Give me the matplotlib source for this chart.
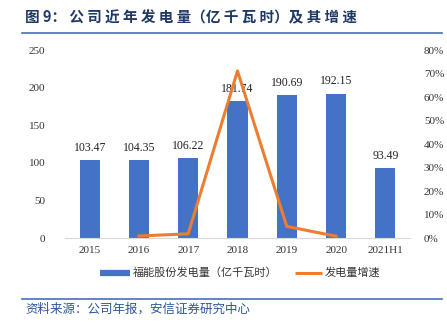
import matplotlib.pyplot as plt
import numpy as np

plt.rcParams['font.family'] = ['Liberation Serif', 'Noto Sans CJK SC']

years = ['2015', '2016', '2017', '2018', '2019', '2020', '2021H1']
output = [103.47, 104.35, 106.22, 181.74, 190.69, 192.15, 93.49]
growth_years = ['2016', '2017', '2018', '2019', '2020']
growth = [0.85, 1.79, 71.10, 4.92, 0.77]
legend_labels = ['福能股份发电量（亿千瓦时）', '发电量增速']

bar_color = '#4472C4'
line_color = '#ED7D31'
navy = '#1F3864'
cjk = ['Noto Sans CJK SC', 'DejaVu Sans']

W, H = 447, 324
fig = plt.figure(figsize=(W / 100, H / 100), dpi=100)
ax = fig.add_axes([65 / W, 1 - 238 / H, 345 / W, 188 / H])
ax2 = ax.twinx()

x = np.arange(len(years))
bars = ax.bar(x, output, width=0.41, color=bar_color, zorder=2)
for xi, v in zip(x, output):
    ax.text(xi, v + 8, f'{v:.2f}', ha='center', va='bottom', fontsize=8.5, color='#222222')

gx = [years.index(y) for y in growth_years]
line, = ax2.plot(gx, growth, color=line_color, lw=2.2, zorder=3)

ax.set_xlim(-0.5, len(years) - 0.5)
ax.set_ylim(0, 250)
ax.set_yticks(np.arange(0, 251, 50))
ax2.set_ylim(0, 80)
ax2.set_yticks(np.arange(0, 81, 10))
ax2.set_yticklabels([f'{t}%' for t in range(0, 81, 10)])
ax.set_xticks(x)
ax.set_xticklabels(years)

for a in (ax, ax2):
    for s in a.spines.values():
        s.set_visible(False)
    a.tick_params(length=0, labelsize=8, colors='#333333')
ax.spines['bottom'].set_visible(True)
ax.spines['bottom'].set_color('#D9D9D9')
ax.tick_params(axis='y', pad=14)
ax.tick_params(axis='x', pad=6)
ax2.tick_params(axis='y', pad=10)

# legend, laid out by hand so both entries sit on one line
ly = 1 - 273 / H
fig.add_artist(plt.Line2D([100 / W, 130 / W], [ly, ly], color=bar_color, lw=4.5, solid_capstyle='butt'))
fig.text(133 / W, ly, legend_labels[0], family=cjk, fontsize=8, color='#333333', va='center')
fig.add_artist(plt.Line2D([295 / W, 322 / W], [ly, ly], color=line_color, lw=2.2, solid_capstyle='butt'))
fig.text(325 / W, ly, legend_labels[1], family=cjk, fontsize=8, color='#333333', va='center')

# title and source
fig.text(25 / W, 1 - 17 / H, '图 9： 公 司 近 年 发 电 量（亿 千 瓦 时）及 其 增 速', family=cjk,
         fontsize=10.5, fontweight='bold', color=navy, va='center')
fig.add_artist(plt.Line2D([22 / W, 442 / W], [1 - 33 / H] * 2, color='#4A6FB5', lw=1.2))
fig.add_artist(plt.Line2D([22 / W, 442 / W], [1 - 299 / H] * 2, color='#4A6FB5', lw=1.2))
fig.text(25 / W, 1 - 309 / H, '资料来源：公司年报，安信证券研究中心', family=cjk,
         fontsize=9, style='italic', color='#2F5597', va='center')

fig.savefig('out.png', dpi=100)
